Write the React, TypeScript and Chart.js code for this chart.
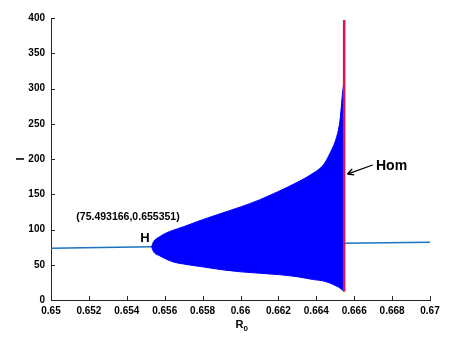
import React, { useEffect, useRef } from "react";
import { Chart, registerables } from "chart.js";

Chart.register(...registerables);

// Equilibrium branch (blue line)
const eqR0 = [0.65, 0.65531, 0.66547, 0.67];
const eqI = [73.3, 75.6, 80.4, 81.8];

// Periodic orbit envelope (filled region between max and min of I)
const poR0 = [0.65531, 0.6554, 0.65575, 0.656, 0.65645, 0.657, 0.658, 0.659, 0.66, 0.661, 0.662, 0.663, 0.66384, 0.66437, 0.66472, 0.66508, 0.66525, 0.66539, 0.66547];
const poMax = [75.6, 82, 90, 94, 99, 104, 114, 123, 132, 142, 154, 167, 180, 191.5, 208, 232, 255, 295, 312];
const poMin = [75.6, 69, 62.5, 59, 54, 51, 47, 43, 40, 38, 36, 33, 29, 27, 24, 19.5, 17, 14, 12];

// Homoclinic line
const homR0 = [0.66547, 0.66547];
const homI = [12, 397];

const xTicks = [0.65, 0.652, 0.654, 0.656, 0.658, 0.66, 0.662, 0.664, 0.666, 0.668, 0.67];
const yTicks = [0, 50, 100, 150, 200, 250, 300, 350, 400];

const hopfLabel = "H";
const hopfCoords = "(75.493166,0.655351)";
const homLabel = "Hom";
const xTitle = "R";
const xTitleSub = "0";
const yTitle = "I";

const pts = (xs: number[], ys: number[]) => xs.map((x, i) => ({ x, y: ys[i] }));
const FONT = "'Liberation Sans', Arial, sans-serif";

export default function App() {
  const ref = useRef<HTMLCanvasElement | null>(null);

  useEffect(() => {
    const canvas = ref.current;
    if (!canvas) return;
    const axisColor = "#262626";

    const overlay = {
      id: "overlay",
      afterDraw(chart: any) {
        const ctx = chart.ctx;
        const xs = chart.scales.x;
        const ys = chart.scales.y;
        const ca = chart.chartArea;
        ctx.save();
        // inward ticks
        ctx.strokeStyle = axisColor;
        ctx.lineWidth = 1;
        ctx.beginPath();
        xTicks.forEach((v) => {
          const px = Math.round(xs.getPixelForValue(v)) + 0.5;
          ctx.moveTo(px, ca.bottom);
          ctx.lineTo(px, ca.bottom - 4);
        });
        yTicks.forEach((v) => {
          const py = Math.round(ys.getPixelForValue(v)) + 0.5;
          ctx.moveTo(ca.left, py);
          ctx.lineTo(ca.left + 4, py);
        });
        ctx.stroke();

        // axis titles
        ctx.fillStyle = "#000";
        ctx.textBaseline = "middle";
        const cx = (ca.left + ca.right) / 2;
        ctx.font = `bold 11px ${FONT}`;
        ctx.textAlign = "right";
        ctx.fillText(xTitle, cx + 3, ca.bottom + 25);
        ctx.font = `bold 8px ${FONT}`;
        ctx.textAlign = "left";
        ctx.fillText(xTitleSub, cx + 3, ca.bottom + 29);
        ctx.save();
        ctx.translate(20.5, (ca.top + ca.bottom) / 2);
        ctx.rotate(-Math.PI / 2);
        ctx.textAlign = "center";
        ctx.font = `bold 11px ${FONT}`;
        ctx.fillText(yTitle, 0, 0);
        ctx.restore();

        // annotations
        ctx.textAlign = "center";
        ctx.font = `bold 13px ${FONT}`;
        ctx.fillText(hopfLabel, xs.getPixelForValue(0.65496), ys.getPixelForValue(88));
        ctx.font = `bold 10.5px ${FONT}`;
        ctx.fillText(hopfCoords, xs.getPixelForValue(0.654063), ys.getPixelForValue(118));

        ctx.textAlign = "left";
        ctx.font = `bold 14px ${FONT}`;
        ctx.fillText(homLabel, xs.getPixelForValue(0.66715), ys.getPixelForValue(190));

        // arrow
        const tx = xs.getPixelForValue(0.665636);
        const ty = ys.getPixelForValue(178.7);
        const sx = xs.getPixelForValue(0.666976);
        const sy = ys.getPixelForValue(191.5);
        ctx.strokeStyle = "#000";
        ctx.lineWidth = 1.3;
        ctx.beginPath();
        ctx.moveTo(sx, sy);
        ctx.lineTo(tx, ty);
        const ang = Math.atan2(ty - sy, tx - sx);
        const L = 7;
        ctx.moveTo(tx, ty);
        ctx.lineTo(tx - L * Math.cos(ang - 0.45), ty - L * Math.sin(ang - 0.45));
        ctx.moveTo(tx, ty);
        ctx.lineTo(tx - L * Math.cos(ang + 0.45), ty - L * Math.sin(ang + 0.45));
        ctx.stroke();
        ctx.restore();
      },
    };

    const chart = new Chart(canvas, {
      type: "line",
      data: {
        datasets: [
          {
            data: pts(homR0, homI),
            borderColor: "#e3124f",
            borderWidth: 2.5,
            pointRadius: 0,
            fill: false,
          },
          {
            data: pts(poR0, poMax),
            borderColor: "#0000ff",
            backgroundColor: "#0000ff",
            borderWidth: 1,
            pointRadius: 0,
            cubicInterpolationMode: "monotone",
            fill: false,
          },
          {
            data: pts(poR0, poMin),
            borderColor: "#0000ff",
            backgroundColor: "#0000ff",
            borderWidth: 1,
            pointRadius: 0,
            cubicInterpolationMode: "monotone",
            fill: 1,
          },
          {
            data: pts(eqR0, eqI),
            borderColor: "#1b72c0",
            borderWidth: 1.5,
            pointRadius: 0,
            fill: false,
          },
        ],
      },
      options: {
        animation: false,
        responsive: false,
        devicePixelRatio: 1,
        layout: { padding: { top: 18, right: 28, left: 0, bottom: 0 } },
        plugins: { legend: { display: false }, tooltip: { enabled: false } },
        scales: {
          x: {
            type: "linear",
            min: 0.65,
            max: 0.67,
            afterBuildTicks: (s: any) => {
              s.ticks = xTicks.map((v) => ({ value: v }));
            },
            afterFit: (s: any) => {
              s.height = 43;
            },
            grid: { display: false, drawTicks: false },
            border: { display: true, color: axisColor, width: 1 },
            ticks: {
              padding: 5,
              color: "#000",
              maxRotation: 0,
              autoSkip: false,
              font: { family: FONT, size: 10, weight: "bold" },
              callback: (v: any) => String(Number(Number(v).toFixed(3))),
            },
          },
          y: {
            type: "linear",
            min: 0,
            max: 400,
            afterBuildTicks: (s: any) => {
              s.ticks = yTicks.map((v) => ({ value: v }));
            },
            afterFit: (s: any) => {
              s.width = 51;
            },
            grid: { display: false, drawTicks: false },
            border: { display: true, color: axisColor, width: 1 },
            ticks: {
              padding: 6,
              color: "#000",
              autoSkip: false,
              font: { family: FONT, size: 10, weight: "bold" },
            },
          },
        },
      },
      plugins: [overlay],
    } as any);

    return () => chart.destroy();
  }, []);

  return (
    <div style={{ position: "fixed", left: 0, top: 0, width: 458, height: 343, background: "#fff" }}>
      <canvas ref={ref} width={458} height={343} style={{ display: "block" }} />
    </div>
  );
}
